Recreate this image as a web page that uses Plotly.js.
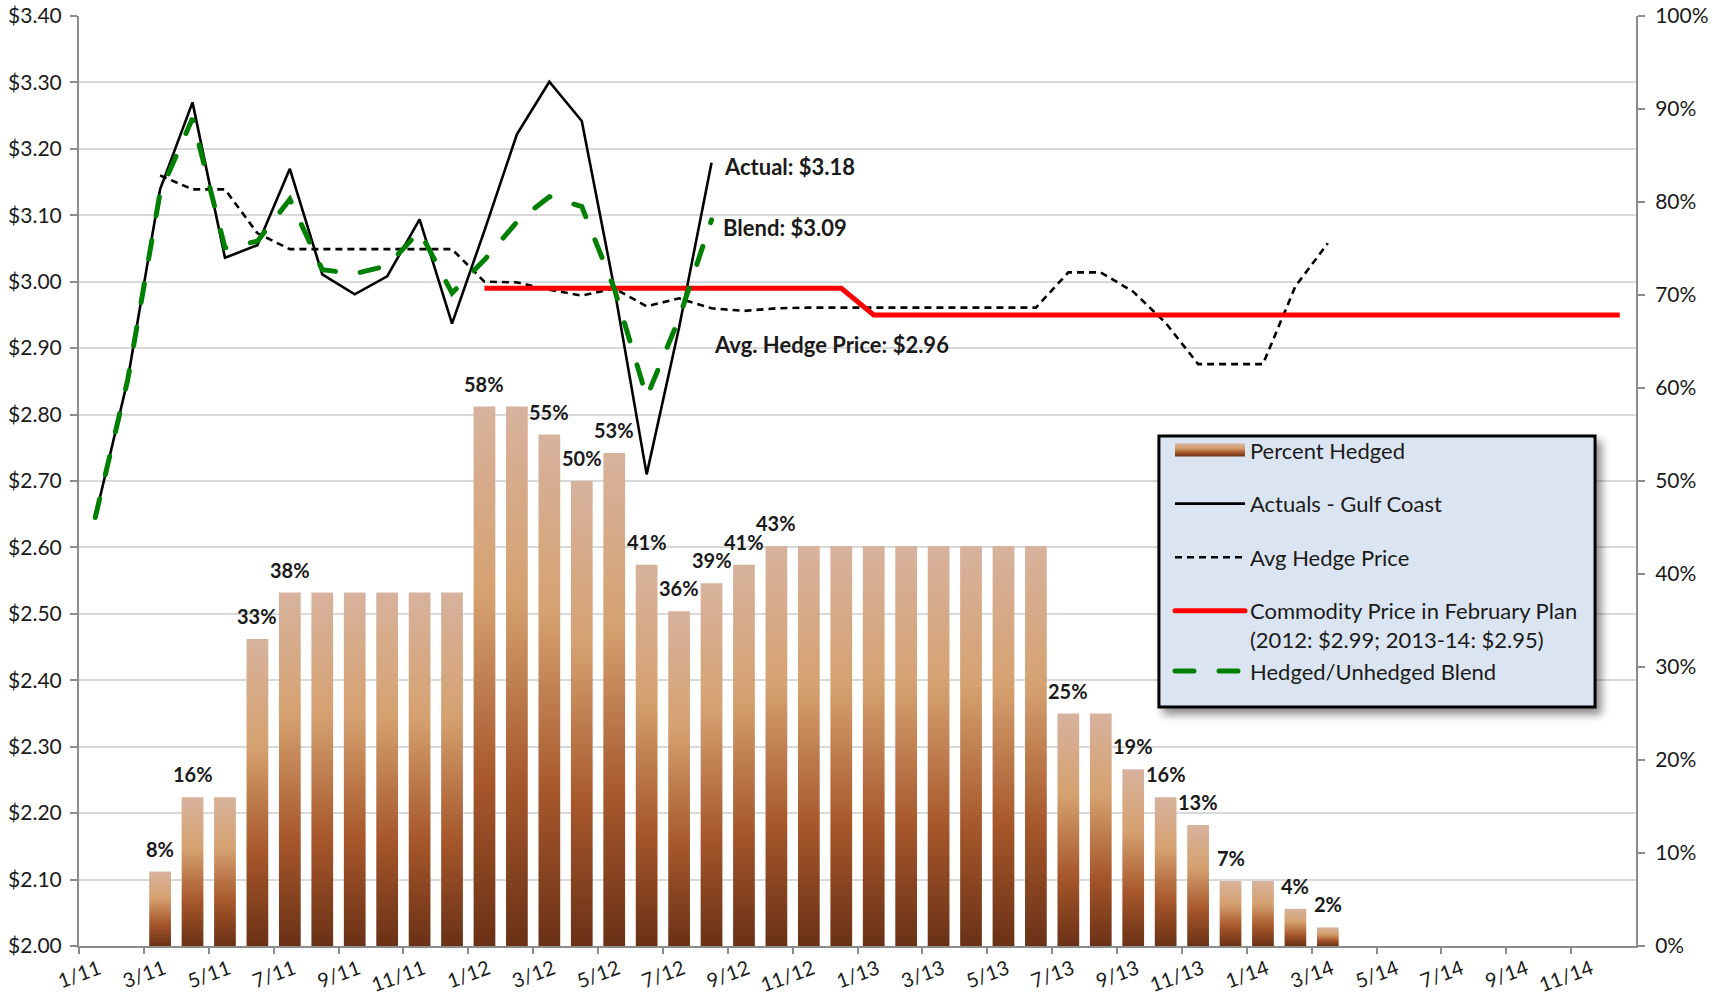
<!DOCTYPE html>
<html>
<head>
<meta charset="utf-8">
<script src="https://cdn.plot.ly/plotly-3.0.1.min.js"></script>
<style>
  html, body { margin: 0; padding: 0; background: #ffffff; }
  #chart { width: 1723px; height: 1001px; }
</style>
</head>
<body>
<div id="chart"></div>
<script>
// ---------- categories: months Jan 2011 .. Dec 2014 ----------
const monthLabels = [];
for (const yr of ['11', '12', '13', '14']) {
  for (let m = 1; m <= 12; m++) monthLabels.push(m + '/' + yr);
}

// ---------- Percent hedged (bars, right axis, %) ----------
const pctHedged = [
  null, null, 8, 16, 16, 33, 38, 38, 38, 38, 38, 38,
  58, 58, 55, 50, 53, 41, 36, 39, 41, 43, 43, 43,
  43, 43, 43, 43, 43, 43, 25, 25, 19, 16, 13, 7,
  7, 4, 2, null, null, null, null, null, null, null, null, null
];
// which bars carry a data label (1 = shown)
const pctLabelShown = [
  0, 0, 1, 1, 0, 1, 1, 0, 0, 0, 0, 0,
  1, 0, 1, 1, 1, 1, 1, 1, 1, 1, 0, 0,
  0, 0, 0, 0, 0, 0, 1, 0, 1, 1, 1, 1,
  0, 1, 1, 0, 0, 0, 0, 0, 0, 0, 0, 0
];

// ---------- Prices (left axis, $) ----------
const actualGulf = [
  2.645, 2.852, 3.139, 3.270, 3.036, 3.055, 3.170, 3.011, 2.981, 3.008, 3.094, 2.937,
  3.077, 3.222, 3.301, 3.242, 2.991, 2.710, 2.931, 3.179, null, null, null, null,
  null, null, null, null, null, null, null, null, null, null, null, null,
  null, null, null, null, null, null, null, null, null, null, null, null
];
const avgHedge = [
  null, null, 3.160, 3.139, 3.139, 3.073, 3.049, 3.049, 3.049, 3.049, 3.049, 3.049,
  3.000, 2.999, 2.988, 2.979, 2.990, 2.963, 2.975, 2.960, 2.956, 2.960, 2.961, 2.961,
  2.961, 2.961, 2.961, 2.961, 2.961, 2.961, 3.014, 3.014, 2.985, 2.938, 2.876, 2.876,
  2.876, 2.993, 3.058, null, null, null, null, null, null, null, null, null
];
const planPrice = [
  null, null, null, null, null, null, null, null, null, null, null, null,
  2.99, 2.99, 2.99, 2.99, 2.99, 2.99, 2.99, 2.99, 2.99, 2.99, 2.99, 2.99,
  2.95, 2.95, 2.95, 2.95, 2.95, 2.95, 2.95, 2.95, 2.95, 2.95, 2.95, 2.95,
  2.95, 2.95, 2.95, 2.95, 2.95, 2.95, 2.95, 2.95, 2.95, 2.95, 2.95, 2.95
];
const blendPrice = [
  2.645, 2.852, 3.134, 3.246, 3.051, 3.061, 3.124, 3.018, 3.012, 3.024, 3.076, 2.983,
  3.033, 3.090, 3.128, 3.113, 2.990, 2.826, 2.945, 3.093, null, null, null, null,
  null, null, null, null, null, null, null, null, null, null, null, null,
  null, null, null, null, null, null, null, null, null, null, null, null
];

// ---------- callout texts ----------
const calloutTexts = ['Actual: $3.18', 'Blend: $3.09', 'Avg. Hedge Price: $2.96'];
const calloutX = [19.83, 19.78, 19.5];
const calloutY = [3.174, 3.081, 2.905];

// month index -> centre of the month band on a numeric axis
const xPos = monthLabels.map((_, i) => i + 0.5);
const tickVals = monthLabels.map((_, i) => i).filter(i => i % 2 === 0);
const tickText = tickVals.map(i => monthLabels[i]);

const FONT = 'Lato, "Open Sans", sans-serif';
const TXT = '#1a1a1a';
const AXC = '#8c8c8c';

const data = [
  {
    type: 'bar', name: 'Percent Hedged', legendgroup: 'g1',
    x: xPos, y: pctHedged, yaxis: 'y', xaxis: 'x',
    width: 0.67,
    marker: { color: '#c48a5c', line: { width: 0 } },
    hoverinfo: 'skip'
  },
  {
    type: 'scatter', mode: 'lines', name: 'Actuals - Gulf Coast', legendgroup: 'g2',
    x: xPos, y: actualGulf, yaxis: 'y2',
    line: { color: '#000000', width: 2.6 }
  },
  {
    type: 'scatter', mode: 'lines', name: 'Avg Hedge Price', legendgroup: 'g3',
    x: xPos, y: avgHedge, yaxis: 'y2',
    line: { color: '#000000', width: 2.6, dash: '7px,5px' }
  },
  {
    type: 'scatter', mode: 'lines', name: 'Commodity Price in February Plan<br>(2012: $2.99; 2013-14: $2.95)', legendgroup: 'g4',
    x: xPos, y: planPrice, yaxis: 'y2',
    line: { color: '#ff0000', width: 5 }
  },
  {
    type: 'scatter', mode: 'lines', name: 'Hedged/Unhedged Blend', legendgroup: 'g4',
    x: xPos, y: blendPrice, yaxis: 'y2',
    line: { color: '#008000', width: 5, dash: '19px,25px' }
  }
];

const annotations = [];
pctHedged.forEach((v, i) => {
  if (v !== null && pctLabelShown[i]) {
    annotations.push({
      x: xPos[i], y: v, xref: 'x', yref: 'y', text: v + '%',
      showarrow: false, yshift: 23, yanchor: 'middle',
      font: { family: FONT, size: 20, color: TXT, weight: 'bold' }
    });
  }
});
calloutTexts.forEach((t, k) => {
  annotations.push({
    x: calloutX[k], y: calloutY[k], xref: 'x', yref: 'y2', text: t,
    showarrow: false, xanchor: 'left', yanchor: 'middle',
    font: { family: FONT, size: 22, color: TXT, weight: 'bold' }
  });
});

const layout = {
  width: 1723, height: 1001,
  margin: { l: 79, r: 87, t: 16, b: 55, pad: 0 },
  paper_bgcolor: '#ffffff', plot_bgcolor: '#ffffff',
  font: { family: FONT, size: 21, color: TXT },
  showlegend: true,
  bargap: 0.33,
  xaxis: {
    range: [0, 48], tickmode: 'array', tickvals: tickVals, ticktext: tickText,
    tickangle: -20, ticks: 'outside', ticklen: 6, tickwidth: 2, tickcolor: AXC,
    ticklabelshift: 20, ticklabelstandoff: -4,
    showline: true, linecolor: AXC, linewidth: 2,
    showgrid: false, zeroline: false, fixedrange: true,
    tickfont: { family: FONT, size: 20, color: TXT }
  },
  yaxis: {
    side: 'right', range: [0, 100], dtick: 10, ticksuffix: '%',
    ticks: 'outside', ticklen: 7, tickwidth: 2, tickcolor: AXC,
    showline: true, linecolor: AXC, linewidth: 2,
    showgrid: false, zeroline: false, fixedrange: true,
    ticklabelstandoff: 6,
    tickfont: { family: FONT, size: 21, color: TXT }
  },
  yaxis2: {
    overlaying: 'y', side: 'left', anchor: 'x',
    range: [2.0, 3.4], dtick: 0.1, tickprefix: '$', tickformat: '.2f',
    ticks: 'outside', ticklen: 7, tickwidth: 2, tickcolor: AXC,
    showline: true, linecolor: AXC, linewidth: 2,
    showgrid: true, gridcolor: '#d9d9d9', gridwidth: 2,
    zeroline: false, fixedrange: true,
    ticklabelstandoff: 4,
    tickfont: { family: FONT, size: 21, color: TXT }
  },
  legend: {
    x: 0.7007, y: 0.5557, xanchor: 'left', yanchor: 'top',
    bgcolor: 'rgba(0,0,0,0)', borderwidth: 0,
    font: { family: FONT, size: 22, color: TXT },
    tracegroupgap: 22, itemwidth: 70, valign: 'top', traceorder: 'grouped'
  },
  shapes: [
    { // legend frame
      type: 'rect', xref: 'paper', yref: 'paper', layer: 'above',
      x0: 0.6936, x1: 0.9737, y0: 0.2570, y1: 0.5484,
      fillcolor: '#dbe5f1', line: { color: '#000000', width: 3 }
    }
  ],
  annotations: annotations
};

function decorate(gd) {
  const NS = 'http://www.w3.org/2000/svg';
  const svg = gd.querySelector('.main-svg');
  let defs = svg.querySelector('defs');
  if (!defs) { defs = document.createElementNS(NS, 'defs'); svg.insertBefore(defs, svg.firstChild); }
  if (!document.getElementById('hedgeGrad')) {
    const grad = document.createElementNS(NS, 'linearGradient');
    grad.setAttribute('id', 'hedgeGrad');
    grad.setAttribute('x1', '0'); grad.setAttribute('y1', '0');
    grad.setAttribute('x2', '0'); grad.setAttribute('y2', '1');
    [[0, '#d7b29d'], [0.35, '#d5a170'], [0.7, '#a6572b'], [1, '#6a3116']].forEach(s => {
      const st = document.createElementNS(NS, 'stop');
      st.setAttribute('offset', s[0]);
      st.setAttribute('stop-color', s[1]);
      grad.appendChild(st);
    });
    defs.appendChild(grad);
  }
  gd.querySelectorAll('.barlayer .point path').forEach(p => { p.style.fill = 'url(#hedgeGrad)'; });
  gd.querySelectorAll('.legend .legendpoints path').forEach(p => {
    p.style.fill = 'url(#hedgeGrad)';
    p.setAttribute('d', 'M35,6.5H-35V-6.5H35Z');
  });
  // soft shadow under the legend frame
  const frame = gd.querySelector('.layer-above .shapelayer path');
  if (frame) frame.style.filter = 'drop-shadow(5px 6px 4px rgba(0,0,0,0.45))';
  // round caps on the blend dashes
  const traces = gd.querySelectorAll('.scatterlayer .trace');
  if (traces.length >= 4) {
    traces[3].querySelectorAll('path.js-line').forEach(p => { p.style.strokeLinecap = 'round'; });
  }
  const legLines = gd.querySelectorAll('.legend .legendlines path');
  legLines.forEach((p, k) => { if (k >= 2) p.style.strokeLinecap = 'round'; });
}

Plotly.newPlot('chart', data, layout, { staticPlot: true, displayModeBar: false }).then(decorate);
</script>
</body>
</html>
